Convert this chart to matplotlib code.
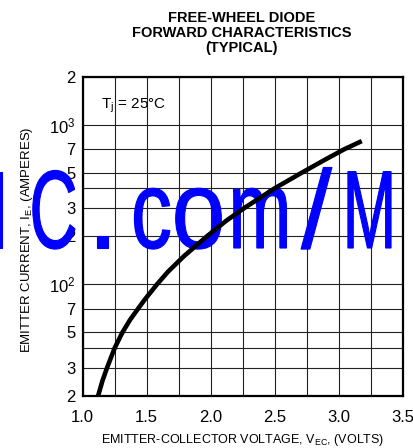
import numpy as np
import matplotlib.pyplot as plt
from matplotlib import patheffects
from matplotlib.transforms import Affine2D

# forward characteristic
volts = [1.12, 1.155, 1.19, 1.25, 1.31, 1.37, 1.43, 1.483, 1.58, 1.666,
         1.79, 1.97, 2.12, 2.26, 2.50, 2.71, 2.886, 3.04, 3.18]
amps = [20, 25, 30, 40, 50, 60, 70, 80, 100, 120,
        150, 200, 250, 300, 400, 500, 600, 700, 790]

xticks = [1.0, 1.5, 2.0, 2.5, 3.0, 3.5]
xticklabels = ["1.0", "1.5", "2.0", "2.5", "3.0", "3.5"]
xminor = [1.25, 1.75, 2.25, 2.75, 3.25]
yticks = [20, 30, 40, 50, 70, 100, 200, 300, 400, 500, 700, 1000, 2000]
yticklabels = ["2", "3", "", "5", "7", r"10$^\mathregular{2}$",
               "2", "3", "", "5", "7", r"10$^\mathregular{3}$", "2"]

# watermark letters, centre x (pixels) and horizontal squeeze
wm_chars = ["I", "C", ".", "c", "o", "m", "/", "M"]
wm_x = [-2, 53.5, 102.5, 151.5, 198.5, 260, 316.5, 369.5]
wm_sx = [0.7, 0.6, 1.0, 0.74, 0.87, 0.68, 1.0, 0.58]

W, H = 413, 448


class Squeeze(patheffects.AbstractPathEffect):
  # narrow a glyph about a fixed x (display pixels), thicken it a bit
  def __init__(self, sx, cx, lw=0.8):
    super().__init__()
    self.sx = sx
    self.cx = cx
    self.lw = lw

  def draw_path(self, renderer, gc, tpath, affine, rgbFace=None):
    aff = affine + Affine2D().translate(-self.cx, 0).scale(self.sx, 1).translate(self.cx, 0)
    gc0 = renderer.new_gc()
    gc0.copy_properties(gc)
    gc0.set_linewidth(self.lw)
    gc0.set_foreground(rgbFace)
    gc0.set_joinstyle("miter")
    renderer.draw_path(gc0, tpath, aff, rgbFace)
    gc0.restore()


def main():
  plt.rcParams["font.family"] = ["Liberation Sans", "DejaVu Sans"]
  plt.rcParams["mathtext.fontset"] = "custom"
  plt.rcParams["mathtext.rm"] = "Liberation Sans"
  plt.rcParams["mathtext.it"] = "Liberation Sans"

  fig = plt.figure(figsize=(W / 100, H / 100), dpi=100)
  ax = fig.add_axes([82.7 / W, 1 - 396 / H, 320 / W, 319.3 / H])

  ax.plot(volts, amps, color="black", lw=3.3, solid_capstyle="butt",
          solid_joinstyle="round", zorder=3)

  ax.set_yscale("log")
  ax.set_xlim(1.0, 3.5)
  ax.set_ylim(20, 2000)
  ax.set_xticks(xticks)
  ax.set_xticklabels(xticklabels)
  ax.set_xticks(xminor, minor=True)
  ax.set_yticks(yticks)
  ax.set_yticklabels(yticklabels)
  ax.yaxis.set_minor_locator(plt.NullLocator())
  ax.tick_params(which="both", length=0, labelsize=12)
  ax.tick_params(axis="x", pad=10)
  ax.tick_params(axis="y", pad=5)
  ax.grid(which="both", color="#222222", lw=0.8)
  for s in ax.spines.values():
    s.set_linewidth(1.6)

  ax.set_xlabel("EMITTER-COLLECTOR VOLTAGE, V$_\\mathregular{EC}$, (VOLTS)",
                fontsize=9)
  ax.xaxis.set_label_coords(0.5, (396 - 432) / 319.3)
  ax.set_ylabel("EMITTER CURRENT, I$_\\mathregular{E}$, (AMPERES)", fontsize=9.5)
  ax.yaxis.set_label_coords((35 - 82.7) / 320, 1 - (240 - 76.7) / 319.3)

  ax.text(0.056, 0.908, r"T$_\mathregular{j}$ = 25°C", transform=ax.transAxes,
          fontsize=11, va="center", ha="left")

  fig.text(242 / W, 1 - 11.5 / H,
           "FREE-WHEEL DIODE\nFORWARD CHARACTERISTICS\n(TYPICAL)",
           ha="center", va="top", fontsize=10.5, fontweight="bold", linespacing=1.08)

  for ch, x, sx in zip(wm_chars, wm_x, wm_sx):
    ax.text(x / W, 1 - 248 / H, ch, transform=fig.transFigure, ha="center",
            va="baseline", fontsize=80, color="#0000ff", clip_on=False, zorder=2,
            path_effects=[Squeeze(sx, x)])

  fig.savefig("out.png", dpi=100)


if __name__ == "__main__":
  main()
